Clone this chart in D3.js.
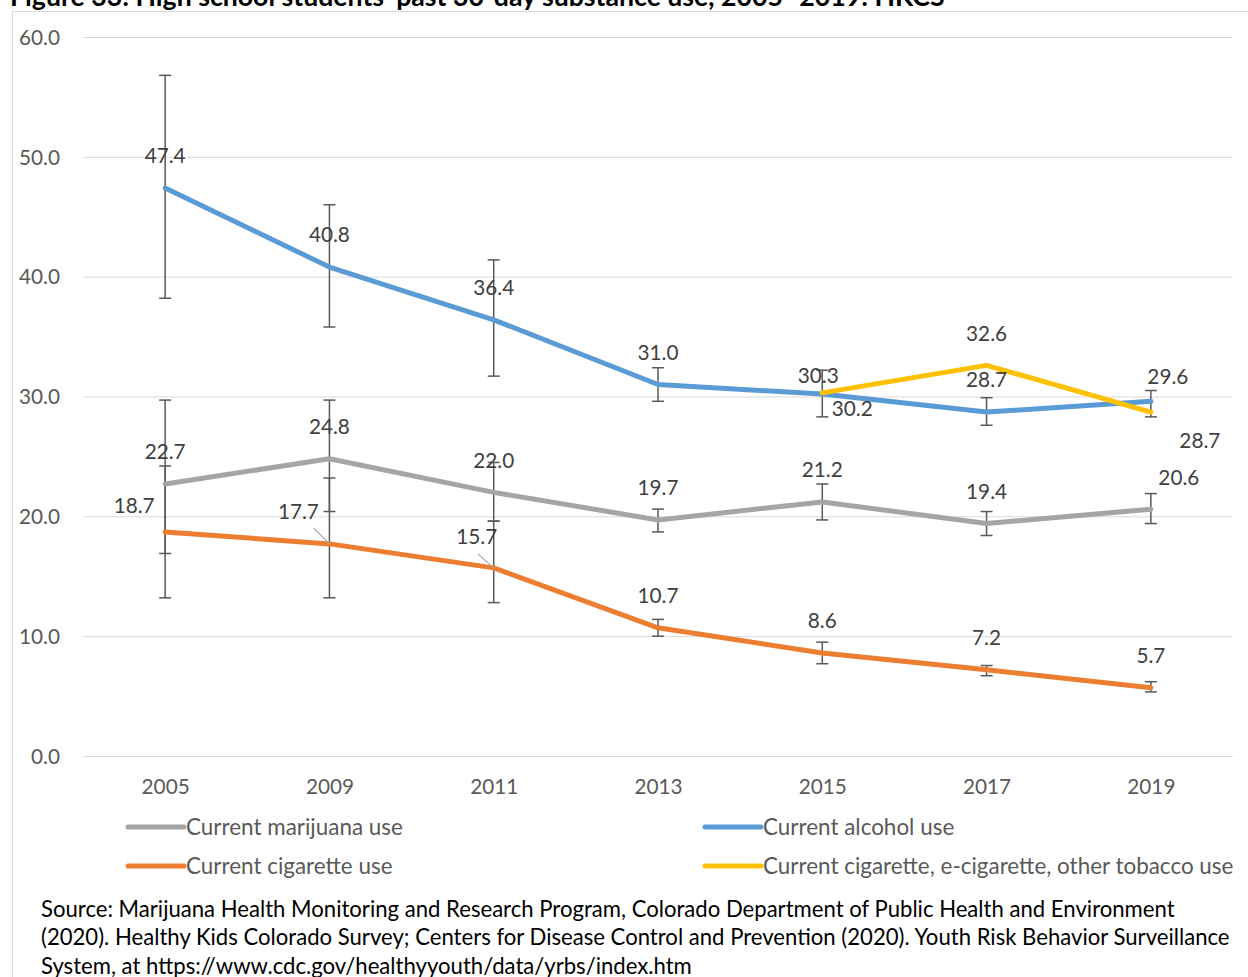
<!DOCTYPE html>
<html>
<head>
<meta charset="utf-8">
<script src="https://cdn.jsdelivr.net/npm/d3@7"></script>
<style>
  html, body { margin: 0; padding: 0; background: #fff; }
  svg { display: block; }
</style>
</head>
<body>
<svg id="chart" width="1248" height="977"></svg>
<script>
// ---------- data ----------
const years = ["2005", "2009", "2011", "2013", "2015", "2017", "2019"];
const yTicks = [0, 10, 20, 30, 40, 50, 60];

const marijuana     = [22.7, 24.8, 22.0, 19.7, 21.2, 19.4, 20.6];
const marijuanaLow  = [16.9, 20.4, 19.6, 18.7, 19.7, 18.4, 19.4];
const marijuanaHigh = [29.7, 29.7, 24.5, 20.6, 22.7, 20.4, 21.9];

const alcohol     = [47.4, 40.8, 36.4, 31.0, 30.2, 28.7, 29.6];
const alcoholLow  = [38.2, 35.8, 31.7, 29.6, 28.3, 27.6, 28.3];
const alcoholHigh = [56.8, 46.0, 41.4, 32.4, 32.2, 29.9, 30.5];

const cigarette     = [18.7, 17.7, 15.7, 10.7, 8.6, 7.2, 5.7];
const cigaretteLow  = [13.2, 13.2, 12.8, 10.0, 7.7, 6.7, 5.35];
const cigaretteHigh = [24.2, 23.2, 19.6, 11.4, 9.5, 7.55, 6.2];

const anyTobacco = [null, null, null, null, 30.3, 32.6, 28.7];

const titleText = "Figure 33: High school students\u2019 past 30-day substance use, 2005- 2019: HKCS";
const sourceLines = [
  "Source: Marijuana Health Monitoring and Research Program, Colorado Department of Public Health and Environment",
  "(2020). Healthy Kids Colorado Survey; Centers for Disease Control and Prevention (2020). Youth Risk Behavior Surveillance",
  "System, at https://www.cdc.gov/healthyyouth/data/yrbs/index.htm"
];

// ---------- styling / layout ----------
const FONT = "Lato, 'Open Sans', 'Noto Sans', sans-serif";
const plot = { left: 83, right: 1233, top: 37, bottom: 756 };

const series = [
  { name: "Current marijuana use", values: marijuana, low: marijuanaLow, high: marijuanaHigh, color: "#A5A5A5",
    labelAdj: { 6: [28, -31] } },
  { name: "Current alcohol use", values: alcohol, low: alcoholLow, high: alcoholHigh, color: "#5B9BD5",
    labelAdj: { 4: [30, 15], 6: [17, -25] } },
  { name: "Current cigarette use", values: cigarette, low: cigaretteLow, high: cigaretteHigh, color: "#ED7D31",
    labelAdj: { 0: [-31, -26], 1: [-31, -32], 2: [-17, -31] },
    leaders: { 1: [-16, -16], 2: [-16, -14] } },
  { name: "Current cigarette, e-cigarette, other tobacco use", values: anyTobacco, low: null, high: null, color: "#FFC000",
    labelAdj: { 4: [-4, -17], 6: [49, 29] } }
];

const svg = d3.select("#chart");

function fitSize(text, weight, target) {
  const t = svg.append("text").attr("font-family", FONT).attr("font-size", 100)
    .attr("font-weight", weight).text(text);
  const w = t.node().getComputedTextLength();
  t.remove();
  return 100 * target / w;
}

const tickSize = fitSize("60.0", "normal", 41);
const legendSize = fitSize("Current marijuana use", "normal", 217);
const sourceSize = fitSize(sourceLines[1], "normal", 1189);
const titleSize = fitSize(titleText, "bold", 935);

// chart border
svg.append("rect")
  .attr("x", 12.5).attr("y", 11.5).attr("width", 1260).attr("height", 1000)
  .attr("fill", "none").attr("stroke", "#D9D9D9").attr("stroke-width", 1);

// title (partly cut off at top)
svg.append("text")
  .attr("x", 10).attr("y", 6)
  .attr("font-family", FONT).attr("font-weight", "bold").attr("font-size", titleSize)
  .attr("fill", "#000").text(titleText);

const x = d3.scalePoint().domain(years).range([plot.left, plot.right]).padding(0.5);
const y = d3.scaleLinear().domain([0, 60]).range([plot.bottom, plot.top]);

// y axis + gridlines
const yAxis = svg.append("g")
  .attr("transform", `translate(${plot.left},0)`)
  .call(d3.axisLeft(y).tickValues(yTicks).tickFormat(d3.format(".1f"))
    .tickSize(-(plot.right - plot.left)).tickPadding(23));
yAxis.select(".domain").remove();
yAxis.selectAll(".tick line").attr("stroke", "#D9D9D9").attr("stroke-width", 1);
yAxis.selectAll(".tick text")
  .attr("font-family", FONT).attr("font-size", tickSize).attr("fill", "#595959")
  .attr("dy", "0.35em");

// x axis labels
const xAxis = svg.append("g")
  .attr("transform", `translate(0,${plot.bottom})`)
  .call(d3.axisBottom(x).tickSize(0).tickPadding(0));
xAxis.select(".domain").remove();
xAxis.selectAll(".tick text")
  .attr("font-family", FONT).attr("font-size", tickSize).attr("fill", "#595959")
  .attr("y", 31).attr("dy", "0.35em");

// error bars
const errG = svg.append("g");
series.forEach(s => {
  if (!s.low) return;
  years.forEach((yr, i) => {
    const cx = x(yr);
    const y1 = y(s.low[i]), y2 = y(s.high[i]);
    errG.append("line").attr("x1", cx).attr("x2", cx).attr("y1", y1).attr("y2", y2)
      .attr("stroke", "#595959").attr("stroke-width", 1.5);
    [y1, y2].forEach(yy => errG.append("line")
      .attr("x1", cx - 6).attr("x2", cx + 6).attr("y1", yy).attr("y2", yy)
      .attr("stroke", "#595959").attr("stroke-width", 1.5));
  });
});

// lines
const line = d3.line()
  .defined(d => d.v !== null)
  .x(d => x(d.year)).y(d => y(d.v));
series.forEach(s => {
  const pts = years.map((yr, i) => ({ year: yr, v: s.values[i] }));
  svg.append("path").datum(pts)
    .attr("d", line)
    .attr("fill", "none").attr("stroke", s.color).attr("stroke-width", 5)
    .attr("stroke-linecap", "round").attr("stroke-linejoin", "round");
});

// leader lines and data labels
const labG = svg.append("g");
series.forEach(s => {
  years.forEach((yr, i) => {
    const v = s.values[i];
    if (v === null) return;
    const px = x(yr), py = y(v);
    if (s.leaders && s.leaders[i]) {
      const [lx, ly] = s.leaders[i];
      labG.append("line").attr("x1", px).attr("y1", py).attr("x2", px + lx).attr("y2", py + ly)
        .attr("stroke", "#A6A6A6").attr("stroke-width", 1.2);
    }
    const [dx, dy] = (s.labelAdj && s.labelAdj[i]) || [0, -32];
    labG.append("text")
      .attr("x", px + dx).attr("y", py + dy).attr("dy", "0.35em")
      .attr("text-anchor", "middle")
      .attr("font-family", FONT).attr("font-size", tickSize).attr("fill", "#404040")
      .text(d3.format(".1f")(v));
  });
});

// legend
const legendPos = [
  { x: 128, y: 827 }, { x: 705, y: 827 }, { x: 128, y: 866 }, { x: 705, y: 866 }
];
series.forEach((s, i) => {
  const p = legendPos[i];
  const g = svg.append("g").attr("transform", `translate(${p.x},${p.y})`);
  g.append("line").attr("x1", 0).attr("x2", 56).attr("y1", 0).attr("y2", 0)
    .attr("stroke", s.color).attr("stroke-width", 5).attr("stroke-linecap", "round");
  g.append("text").attr("x", 58).attr("y", 0).attr("dy", "0.35em")
    .attr("font-family", FONT).attr("font-size", legendSize).attr("fill", "#595959")
    .text(s.name);
});

// source note
sourceLines.forEach((t, i) => {
  svg.append("text")
    .attr("x", 41).attr("y", 909 + i * 28.7).attr("dy", "0.35em")
    .attr("font-family", FONT).attr("font-size", sourceSize).attr("fill", "#000")
    .text(t);
});
</script>
</body>
</html>
